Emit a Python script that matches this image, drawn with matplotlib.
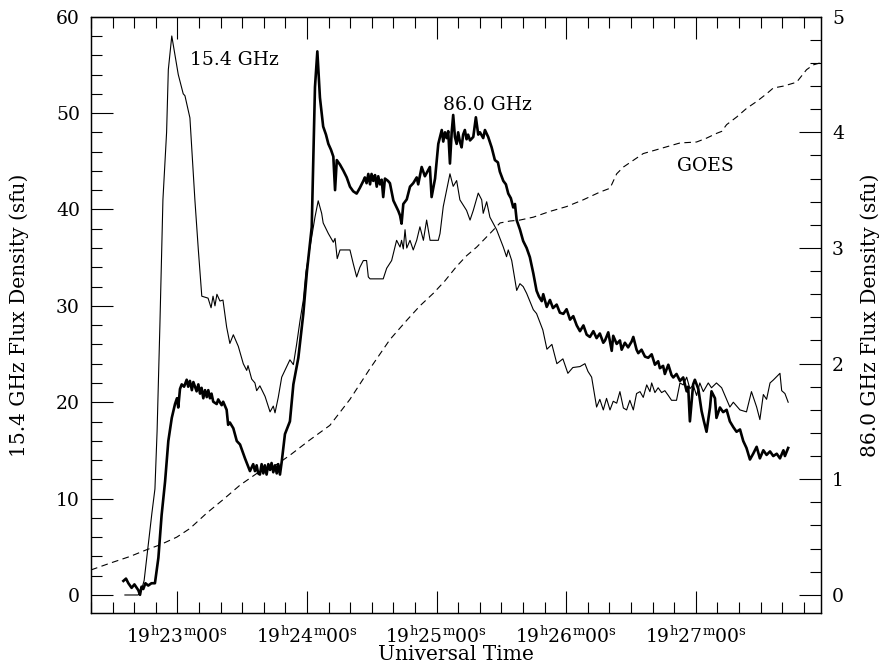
import numpy as np
import matplotlib
matplotlib.use("Agg")
import matplotlib.pyplot as plt
from matplotlib.ticker import MultipleLocator, FuncFormatter

plt.rcParams["font.family"] = "DejaVu Serif"
plt.rcParams["mathtext.fontset"] = "dejavuserif"

# time axis: seconds after 19h22m00s UT
t_154 = [35.7, 41.8, 43.2, 44.6, 46.4, 48.2, 49.6, 50.6, 51.9, 53.3, 55.0, 55.8, 57.4,
         60.4, 62.7, 63.5, 65.8, 68.1, 69.7, 71.3, 74.2, 75.6, 76.5, 77.4, 78.3, 79.7,
         81.1, 82.8, 84.3, 85.9, 88.2, 90.5, 92.1, 92.7, 94.4, 95.9, 96.7, 98.2, 100.6,
         102.9, 104.4, 105.2, 106.7, 108.3, 110.6, 112.1, 113.7, 115.2, 116.8, 118.3,
         119.5, 121.4, 123.7, 125.2, 126.8, 127.5, 129.9, 132.2, 133.0, 134.0, 135.3,
         139.9, 141.4, 143.0, 144.5, 146.1, 147.6, 148.4, 149.2, 155.3, 156.9, 159.2,
         161.5, 163.1, 163.8, 164.6, 165.4, 166.2, 167.7, 169.2, 170.8, 172.3, 173.9,
         175.4, 177.0, 180.8, 181.6, 183.1, 186.2, 187.7, 189.3, 190.8, 193.9, 195.5,
         197.0, 199.3, 200.9, 201.6, 203.2, 204.7, 207.8, 210.9, 212.4, 213.2, 214.8,
         217.1, 218.6, 220.1, 221.7, 224.8, 226.3, 229.2, 231.1, 233.4, 235.7, 238.5,
         240.8, 243.1, 246.4, 248.7, 250.1, 251.8, 254.1, 255.6, 257.2, 258.7, 260.3,
         261.8, 263.4, 264.9, 266.5, 268.0, 269.5, 271.1, 272.6, 274.2, 275.7, 277.3,
         278.8, 279.6, 281.1, 282.6, 284.2, 285.7, 287.3, 288.8, 291.1, 292.7, 294.2,
         295.8, 297.3, 298.8, 300.4, 301.9, 303.5, 305.8, 307.3, 309.6, 312.0, 313.5,
         315.8, 317.4, 320.5, 323.5, 325.8, 328.2, 329.7, 331.3, 332.8, 334.4, 335.9,
         339.0, 339.8, 341.3, 342.8]
flux_154 = [0.0, 0.0, 0.4, 1.5, 5.0, 8.5, 11.0, 17.0, 28.0, 41.0, 48.0, 54.5, 58.0,
            54.0, 52.0, 51.8, 49.5, 41.0, 35.8, 31.0, 30.8, 29.8, 31.0, 30.0, 31.2, 30.5,
            30.6, 27.8, 26.1, 27.0, 25.8, 24.0, 23.3, 23.8, 22.4, 22.0, 21.2, 21.7, 20.6,
            19.0, 19.6, 18.9, 20.5, 22.6, 23.7, 24.4, 23.9, 26.0, 28.5, 30.6,
            33.5, 36.1, 39.2, 40.9, 39.6, 38.6, 37.5, 36.6, 37.0, 34.9, 35.8,
            35.8, 34.4, 33.0, 34.0, 34.7, 34.7, 33.0, 32.8, 32.8, 33.9, 34.7,
            36.8, 36.1, 36.8, 35.9, 37.9, 36.0, 36.8, 35.8, 36.8, 38.2, 36.8,
            38.9, 36.8, 36.8, 37.5, 40.3, 43.7, 42.4, 43.0, 41.0, 39.9, 38.9,
            39.9, 41.7, 41.0, 39.6, 40.8, 39.2, 37.9, 36.1, 35.1, 35.8, 34.7,
            31.6, 32.3, 32.0, 31.3, 29.6, 29.2, 27.5, 25.5, 26.0, 24.0, 24.5,
            23.0, 23.6, 23.7, 24.0, 23.2, 22.6, 19.5, 20.3, 19.2, 20.4, 19.2,
            20.1, 19.9, 21.1, 19.4, 19.2, 20.2, 19.2, 20.9, 21.1, 20.5, 21.8,
            21.1, 22.0, 21.0, 21.5, 21.0, 21.2, 20.7, 20.2, 20.2, 22.0, 21.8,
            22.6, 21.4, 21.8, 20.7, 22.0, 21.1, 22.0, 21.5, 22.0, 21.5, 20.7,
            19.5, 20.0, 19.2, 19.0, 21.1, 19.5, 18.2, 20.8, 20.3, 22.0, 22.3,
            23.0, 21.2, 20.9, 20.0]

t_860 = [35.0, 36.2, 37.3, 38.8, 40.1, 41.9, 42.7, 43.4, 44.2, 45.2, 46.5, 48.0, 49.6,
         51.2, 52.7, 54.3, 55.8, 57.4, 58.9, 59.8, 60.4, 61.2, 62.0, 63.1, 64.3, 65.0,
         65.8, 66.7, 67.4, 68.9, 69.7, 70.5, 71.2, 72.0, 72.8, 73.6, 74.3, 75.1, 75.8,
         76.6, 78.2, 78.9, 80.5, 81.2, 82.8, 83.5, 84.3, 85.9, 87.5, 89.0, 91.3, 93.6,
         95.1, 95.9, 96.7, 97.4, 98.2, 99.0, 99.8, 100.5, 101.3, 102.1, 102.9, 103.6,
         104.4, 105.2, 106.0, 106.7, 107.5, 108.3, 109.8, 112.1, 113.7, 116.0, 118.3,
         120.0, 122.2, 123.7, 124.8, 126.0, 127.5, 128.8, 129.9, 131.1, 132.2, 133.0,
         133.8, 135.3, 136.8, 138.4, 139.9, 141.4, 143.0, 144.5, 146.1, 146.8, 147.6,
         148.4, 149.2, 149.9, 150.7, 151.5, 152.3, 153.0, 153.8, 154.6, 155.3, 156.1,
         157.5, 158.4, 160.0, 162.3, 163.1, 163.8, 164.6, 166.2, 167.7, 169.2, 170.8,
         171.5, 173.1, 174.6, 176.9, 177.7, 179.3, 180.8, 182.4, 183.1, 183.9, 184.7,
         185.4, 186.2, 187.0, 187.7, 188.5, 189.3, 190.0, 190.8, 191.6, 192.3, 193.1,
         193.9, 194.6, 195.5, 197.0, 198.2, 199.3, 200.1, 201.6, 202.4, 203.9, 205.5,
         207.0, 208.4, 209.3, 210.9, 212.1, 213.2, 214.4, 215.5, 216.3, 217.1, 218.6,
         220.1, 221.7, 223.2, 224.8, 226.3, 227.4, 228.7, 229.4, 231.0, 232.5, 233.9,
         235.6, 237.1, 238.7, 240.2, 241.8, 243.3, 244.9, 246.4, 248.0, 249.5, 251.0,
         252.6, 254.1, 255.6, 257.2, 258.0, 259.5, 261.1, 261.8, 263.4, 264.9, 265.7,
         267.2, 268.7, 270.3, 271.1, 272.6, 273.4, 274.9, 276.5, 278.0, 279.6, 281.1,
         282.6, 283.4, 284.9, 285.7, 287.3, 288.8, 289.6, 291.1, 292.7, 294.2, 295.8,
         296.5, 297.3, 298.8, 299.6, 301.2, 302.7, 303.8, 305.0, 306.6, 307.3, 308.9,
         309.6, 311.2, 312.7, 314.3, 315.8, 317.4, 318.9, 320.5, 322.0, 323.5, 325.1,
         326.6, 328.2, 329.7, 331.3, 332.8, 334.4, 335.9, 337.5, 339.0, 340.6, 341.3,
         342.8]
flux_860 = [0.12, 0.14, 0.10, 0.06, 0.09, 0.04, 0.00, 0.07, 0.05, 0.10, 0.08, 0.10, 0.10,
            0.32, 0.69, 0.98, 1.33, 1.53, 1.65, 1.70, 1.62, 1.78, 1.82, 1.80, 1.86, 1.80,
            1.85, 1.77, 1.84, 1.76, 1.82, 1.74, 1.79, 1.70, 1.77, 1.71, 1.77, 1.70, 1.74,
            1.67, 1.65, 1.69, 1.64, 1.67, 1.60, 1.47, 1.49, 1.44, 1.33, 1.30, 1.18, 1.07,
            1.13, 1.07, 1.12, 1.05, 1.04, 1.13, 1.05, 1.12, 1.04, 1.13, 1.08, 1.14,
            1.06, 1.12, 1.05, 1.13, 1.04, 1.15, 1.39, 1.50, 1.82, 2.05, 2.43,
            2.80, 3.18, 4.39, 4.70, 4.30, 4.05, 3.98, 3.90, 3.85, 3.79, 3.50,
            3.76, 3.72, 3.67, 3.61, 3.53, 3.49, 3.47, 3.52, 3.58, 3.61, 3.56,
            3.64, 3.55, 3.64, 3.58, 3.63, 3.53, 3.62, 3.55, 3.59, 3.44, 3.60,
            3.58, 3.56, 3.41, 3.32, 3.28, 3.21, 3.38, 3.42, 3.53, 3.56, 3.61,
            3.55, 3.70, 3.62, 3.70, 3.44, 3.60, 3.90, 4.02, 3.92, 4.00, 3.95,
            4.01, 3.73, 4.00, 4.15, 3.96, 3.90, 4.00, 3.92, 3.87, 3.98, 4.02,
            3.94, 3.98, 3.93, 3.96, 4.13, 3.98, 4.00, 3.95, 4.02, 3.96, 3.87,
            3.76, 3.74, 3.66, 3.58, 3.55, 3.47, 3.43, 3.35, 3.38, 3.24, 3.16,
            3.06, 3.00, 2.92, 2.78, 2.63, 2.58, 2.54, 2.60, 2.49, 2.55, 2.48,
            2.51, 2.44, 2.43, 2.47, 2.38, 2.41, 2.33, 2.28, 2.33, 2.25, 2.23,
            2.28, 2.22, 2.26, 2.18, 2.20, 2.27, 2.11, 2.24, 2.17, 2.20, 2.12,
            2.18, 2.14, 2.19, 2.23, 2.12, 2.09, 2.12, 2.06, 2.05, 2.08, 1.99,
            2.02, 1.96, 1.98, 1.91, 1.99, 1.90, 1.88, 1.91, 1.85, 1.88, 1.76,
            1.80, 1.50, 1.82, 1.86, 1.78, 1.59, 1.50, 1.41, 1.62, 1.76, 1.70,
            1.53, 1.62, 1.58, 1.60, 1.50, 1.45, 1.41, 1.43, 1.33, 1.27, 1.17,
            1.22, 1.28, 1.18, 1.25, 1.21, 1.24, 1.20, 1.22, 1.18, 1.25, 1.20,
            1.27]

t_goes = [20.0, 28.8, 38.1, 45.8, 51.9, 59.7, 65.8, 73.6, 81.2, 89.0, 96.7, 104.4,
          112.1, 121.4, 130.6, 139.9, 149.2, 158.4, 166.2, 172.3, 178.5, 183.9, 189.3,
          193.9, 198.6, 204.7, 209.4, 214.0, 218.6, 224.8, 232.5, 240.2, 247.9, 255.6,
          260.3, 263.4, 266.5, 271.1, 275.7, 281.9, 286.5, 292.7, 300.4, 305.0, 309.7,
          312.0, 314.3, 319.0, 323.6, 328.2, 332.8, 335.9, 340.6, 346.7, 351.3, 354.4,
          357.5]
goes = [2.6, 3.3, 4.0, 4.7, 5.2, 6.0, 6.9, 8.5, 9.9, 11.4, 12.6, 13.3,
        14.5, 16.1, 17.6, 20.3, 23.5, 26.5, 28.5, 30.0, 31.3, 32.6, 34.1,
        35.2, 36.1, 37.5, 38.6, 38.8, 38.9, 39.2, 39.8, 40.3, 41.0, 41.8,
        42.2, 43.7, 44.4, 45.1, 45.8, 46.2, 46.5, 46.9, 47.0, 47.4, 47.9,
        48.1, 48.8, 49.6, 50.5, 51.2, 52.0, 52.6, 52.8, 53.2, 54.5, 55.0,
        55.2]


def ut_label(sec, pos):
    m = 22 + int(round(sec)) // 60
    s = int(round(sec)) % 60
    return r"$\mathrm{19^{h}%02d^{m}%02d^{s}}$" % (m, s)


fig = plt.figure(figsize=(8.83, 6.64), dpi=100)
ax = fig.add_axes([91 / 883, 1 - 613.3 / 664, 730 / 883, 596.6 / 664])
ax2 = ax.twinx()

ax.plot(t_154, flux_154, color="black", lw=0.8)
ax.plot(t_goes, goes, color="black", lw=0.8, dashes=(6, 4))
ax2.plot(t_860, flux_860, color="black", lw=1.9)

ax.set_xlim(20, 358)
ax.set_ylim(-1.9, 60)
ax2.set_ylim(-0.16, 5)

ax.xaxis.set_major_locator(MultipleLocator(60))
ax.xaxis.set_minor_locator(MultipleLocator(10))
ax.xaxis.set_major_formatter(FuncFormatter(ut_label))
ax.yaxis.set_major_locator(MultipleLocator(10))
ax.yaxis.set_minor_locator(MultipleLocator(2))
ax2.yaxis.set_major_locator(MultipleLocator(1))
ax2.yaxis.set_minor_locator(MultipleLocator(0.2))

for a in (ax, ax2):
    a.tick_params(which="both", direction="in", width=0.8, labelsize=13.5, pad=8)
    a.tick_params(which="major", length=15.6)
    a.tick_params(which="minor", length=7.6)
    for sp in a.spines.values():
        sp.set_linewidth(0.9)
ax.tick_params(which="both", top=True, right=False)
ax.tick_params(axis="x", which="major", pad=9)
ax2.tick_params(which="both", left=False, right=True)

ax.set_xlabel("Universal Time", fontsize=14.5)
ax.xaxis.set_label_coords(0.5, -0.069)
ax.xaxis.label.set_va("center")
ax.set_ylabel("15.4 GHz Flux Density (sfu)", fontsize=14.5)
ax.yaxis.set_label_coords(-0.099, 0.5)
ax.yaxis.label.set_va("center")
ax2.set_ylabel("86.0 GHz Flux Density (sfu)", fontsize=14.5)
ax2.yaxis.set_label_coords(1.067, 0.5)
ax2.yaxis.label.set_va("center")

ax.text(65.8, 55.5, "15.4 GHz", fontsize=13.5, va="center")
ax.text(183.0, 50.8, "86.0 GHz", fontsize=13.5, va="center")
ax.text(291.3, 44.5, "GOES", fontsize=13.5, va="center")

fig.savefig("out.png", dpi=100)
